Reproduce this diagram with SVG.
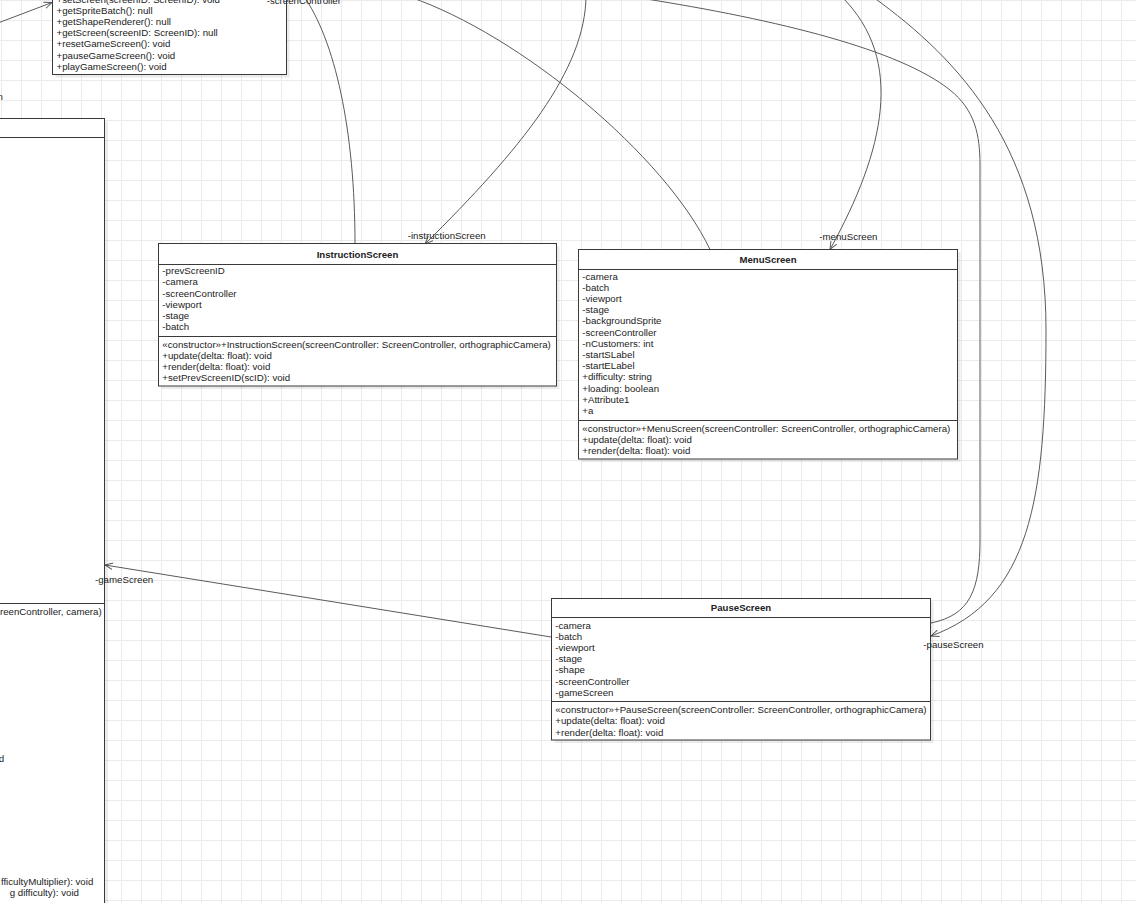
<svg xmlns="http://www.w3.org/2000/svg" width="1136" height="903" viewBox="0 0 1136 903">
<style>
text{font-family:"Liberation Sans",Arial,sans-serif;font-size:9.7px;fill:#222}
.t{font-weight:bold;text-anchor:middle;font-size:9.6px}
.e{text-anchor:end}
.box{fill:#fff;stroke:#3a3a3a;stroke-width:1}
.sh{fill:#000;opacity:0.08}
.ln{stroke:#3a3a3a;stroke-width:1}
.c{fill:none;stroke:#5a5a5a;stroke-width:1}
</style>
<defs>
<pattern id="grid" width="20" height="20" patternUnits="userSpaceOnUse" x="1" y="0">
<path d="M0.5,0 V20 M0,0.5 H20" fill="none" stroke="#ebebeb" stroke-width="1"/>
</pattern>
<marker id="open" viewBox="0 0 10 10" refX="10" refY="5" markerWidth="8" markerHeight="8" markerUnits="userSpaceOnUse" orient="auto">
<path d="M0,0.8 L10,5 L0,9.2" fill="none" stroke="#555" stroke-width="1.2"/>
</marker>
</defs>
<rect width="1136" height="903" fill="#fff"/>
<rect width="1136" height="903" fill="url(#grid)"/>

<g id="connectors">
<path class="c" d="M355,244 C355,130 335,40 303,-5"/>
<path class="c" d="M586,-5 C586,70 520,150 425,244" marker-end="url(#open)"/>
<path class="c" d="M410,-3 C520,35 665,155 710,249.5"/>
<path class="c" d="M640,-2 C780,20 900,50 950,90 C975,110 980,135 980,165 L980,540 C980,590 970,615 931,623"/>
<path class="c" d="M842,-3 C905,60 885,150 830,249.5" marker-end="url(#open)"/>
<path class="c" d="M873,-3 C960,60 1046,150 1046,330 C1046,500 1030,600 931,636" marker-end="url(#open)"/>
<path class="c" d="M551,637 L105,565" marker-end="url(#open)"/>
<path class="c" d="M-2,23 L52,2.5" marker-end="url(#open)"/>
</g>

<g id="ScreenController">
<rect class="sh" x="55.5" y="-47" width="234" height="124.5"/>
<rect class="box" x="52.5" y="-50" width="234" height="124.5"/>
<text x="56.5" y="3">+setScreen(screenID: ScreenID): void</text>
<text x="56.5" y="14.1">+getSpriteBatch(): null</text>
<text x="56.5" y="25.2">+getShapeRenderer(): null</text>
<text x="56.5" y="36.3">+getScreen(screenID: ScreenID): null</text>
<text x="56.5" y="47.4">+resetGameScreen(): void</text>
<text x="56.5" y="58.5">+pauseGameScreen(): void</text>
<text x="56.5" y="69.6">+playGameScreen(): void</text>
</g>

<g id="GameScreen">
<rect class="sh" x="-7" y="121.5" width="115" height="850"/>
<rect class="box" x="-10.5" y="118.5" width="115" height="850"/>
<line class="ln" x1="-10" y1="137.5" x2="104.5" y2="137.5"/>
<line class="ln" x1="-10" y1="603.5" x2="104.5" y2="603.5"/>
<text class="e" x="101.7" y="615.1">reenController, camera)</text>
<text class="e" x="4.2" y="761.5">d</text>
<text class="e" x="93.3" y="885.1">fficultyMultiplier): void</text>
<text class="e" x="79" y="895.7">g difficulty): void</text>
</g>

<g id="InstructionScreen">
<rect class="sh" x="161.5" y="246.5" width="398" height="142.5"/>
<rect class="box" x="158.5" y="243.5" width="398" height="142.5"/>
<line class="ln" x1="158.5" y1="264.5" x2="556.5" y2="264.5"/>
<line class="ln" x1="158.5" y1="336.5" x2="556.5" y2="336.5"/>
<text class="t" x="357.5" y="257.8">InstructionScreen</text>
<text x="162.3" y="274.2">-prevScreenID</text>
<text x="162.3" y="285.4">-camera</text>
<text x="162.3" y="296.6">-screenController</text>
<text x="162.3" y="307.8">-viewport</text>
<text x="162.3" y="319">-stage</text>
<text x="162.3" y="330.2">-batch</text>
<text x="162.3" y="347.8">«constructor»+InstructionScreen(screenController: ScreenController, orthographicCamera)</text>
<text x="162.3" y="358.9">+update(delta: float): void</text>
<text x="162.3" y="370.1">+render(delta: float): void</text>
<text x="162.3" y="381.2">+setPrevScreenID(scID): void</text>
</g>

<g id="MenuScreen">
<rect class="sh" x="581.5" y="252.5" width="379" height="209.5"/>
<rect class="box" x="578.5" y="249.5" width="379" height="209.5"/>
<line class="ln" x1="578.5" y1="269.5" x2="957.5" y2="269.5"/>
<line class="ln" x1="578.5" y1="420.5" x2="957.5" y2="420.5"/>
<text class="t" x="768" y="262.9">MenuScreen</text>
<text x="582.3" y="279.7">-camera</text>
<text x="582.3" y="290.9">-batch</text>
<text x="582.3" y="302.1">-viewport</text>
<text x="582.3" y="313.2">-stage</text>
<text x="582.3" y="324.4">-backgroundSprite</text>
<text x="582.3" y="335.6">-screenController</text>
<text x="582.3" y="346.8">-nCustomers: int</text>
<text x="582.3" y="358">-startSLabel</text>
<text x="582.3" y="369.1">-startELabel</text>
<text x="582.3" y="380.3">+difficulty: string</text>
<text x="582.3" y="391.5">+loading: boolean</text>
<text x="582.3" y="402.7">+Attribute1</text>
<text x="582.3" y="413.9">+a</text>
<text x="582.3" y="431.6">«constructor»+MenuScreen(screenController: ScreenController, orthographicCamera)</text>
<text x="582.3" y="442.8">+update(delta: float): void</text>
<text x="582.3" y="454">+render(delta: float): void</text>
</g>

<g id="PauseScreen">
<rect class="sh" x="554.5" y="601.5" width="379" height="141.5"/>
<rect class="box" x="551.5" y="598.5" width="379" height="141.5"/>
<line class="ln" x1="551.5" y1="617.5" x2="930.5" y2="617.5"/>
<line class="ln" x1="551.5" y1="701.5" x2="930.5" y2="701.5"/>
<text class="t" x="741" y="611.4">PauseScreen</text>
<text x="555.3" y="628.7">-camera</text>
<text x="555.3" y="639.9">-batch</text>
<text x="555.3" y="651.1">-viewport</text>
<text x="555.3" y="662.2">-stage</text>
<text x="555.3" y="673.4">-shape</text>
<text x="555.3" y="684.6">-screenController</text>
<text x="555.3" y="695.8">-gameScreen</text>
<text x="555.3" y="713.2">«constructor»+PauseScreen(screenController: ScreenController, orthographicCamera)</text>
<text x="555.3" y="724.4">+update(delta: float): void</text>
<text x="555.3" y="735.6">+render(delta: float): void</text>
</g>

<g id="connector-labels">
<text class="e" x="341" y="4.4">-screenController</text>
<text x="407.7" y="239.4">-instructionScreen</text>
<text x="819.3" y="240.4">-menuScreen</text>
<text x="923.3" y="647.7">-pauseScreen</text>
<text x="95" y="582.7">-gameScreen</text>
<text class="e" x="2.8" y="100">n</text>
</g>
</svg>
